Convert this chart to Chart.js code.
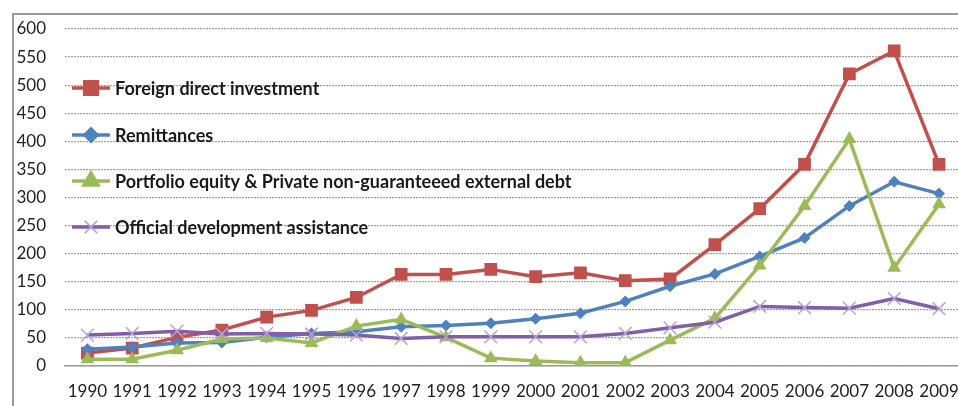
<!DOCTYPE html>
<html>
<head>
<meta charset="utf-8">
<script src="https://cdn.jsdelivr.net/npm/chart.js@4.4.1/dist/chart.umd.min.js"></script>
<style>
  html, body { margin: 0; padding: 0; background: #fff; overflow: hidden; width: 958px; height: 406px; }
  #frame {
    position: absolute; left: 12px; top: 13px;
    width: 960px; height: 420px;
    border-left: 2px solid #9a9a9a; border-top: 2px solid #9a9a9a;
  }
  #chart { display: block; }
</style>
</head>
<body>
<div id="frame"><canvas id="chart" width="960" height="420"></canvas></div>
<script>
// anos
const anos = ['1990','1991','1992','1993','1994','1995','1996','1997','1998','1999',
              '2000','2001','2002','2003','2004','2005','2006','2007','2008','2009'];

// series
const fdi        = [23, 32, 51, 64, 87, 99, 122, 163, 163, 172, 159, 166, 152, 155, 216, 280, 359, 520, 561, 359];
const remessas   = [30, 34, 41, 42, 51, 58, 61, 70, 72, 76, 84, 94, 115, 142, 164, 195, 228, 285, 328, 307];
const portfolio  = [12, 12, 28, 48, 50, 41, 71, 83, 51, 14, 9, 6, 6, 46, 85, 179, 285, 404, 175, 288];
const oda        = [55, 58, 62, 57, 58, 57, 55, 49, 52, 52, 52, 52, 58, 68, 78, 106, 104, 103, 120, 102];

const nomes = ['Foreign direct investment', 'Remittances',
               'Portfolio equity & Private non-guaranteeed external debt',
               'Official development assistance'];

const cores = ['#C0504D', '#4F81BD', '#9BBB59', '#7F5FA8'];
const coresPonto = ['#C0504D', '#4F81BD', '#9BBB59', '#B3A2D3'];
const estilos = ['rect', 'rectRot', 'triangle', 'crossRot'];
const raios = [9, 6, 8, 9];

function serie(i, dados, ordem) {
  return {
    label: nomes[i],
    data: dados,
    borderColor: cores[i],
    backgroundColor: coresPonto[i],
    pointBackgroundColor: coresPonto[i],
    pointBorderColor: coresPonto[i],
    pointBorderWidth: i == 3 ? 1.5 : 0,
    pointStyle: estilos[i],
    pointRadius: raios[i],
    borderWidth: 3.5,
    tension: 0,
    order: ordem
  };
}

// legenda desenhada dentro da area do grafico
const legendaDentro = {
  id: 'legendaDentro',
  afterDatasetsDraw(chart) {
    const ctx = chart.ctx;
    const ys = [73, 120, 166, 212];
    ctx.save();
    for (let i = 0; i < nomes.length; i++) {
      const y = ys[i];
      ctx.strokeStyle = cores[i];
      ctx.lineWidth = 3.5;
      ctx.beginPath();
      ctx.moveTo(58, y);
      ctx.lineTo(96, y);
      ctx.stroke();
      ctx.fillStyle = coresPonto[i];
      ctx.strokeStyle = coresPonto[i];
      ctx.lineWidth = i == 3 ? 1.5 : 0;
      Chart.helpers.drawPoint(ctx, { pointStyle: estilos[i], radius: raios[i], borderWidth: ctx.lineWidth }, 77, y);
      ctx.fillStyle = '#1a1a1a';
      ctx.font = 'bold 18px Lato';
      ctx.textBaseline = 'middle';
      ctx.fillText(nomes[i], 101, y + 1);
    }
    ctx.restore();
  }
};

new Chart(document.getElementById('chart'), {
  type: 'line',
  data: {
    labels: anos,
    datasets: [
      serie(0, fdi, 4),
      serie(1, remessas, 3),
      serie(2, portfolio, 2),
      serie(3, oda, 1)
    ]
  },
  options: {
    responsive: false,
    animation: false,
    layout: { padding: { top: 0, right: 10, bottom: 0, left: 0 } },
    plugins: { legend: { display: false }, tooltip: { enabled: false } },
    scales: {
      x: {
        offset: true,
        grid: { display: false, drawTicks: false },
        border: { display: true, color: '#9a9a9a', width: 1.5 },
        ticks: { color: '#222', font: { family: 'Lato', size: 17 }, padding: 15, maxRotation: 0, autoSkip: false },
        afterFit(s) { s.height = 69; }
      },
      y: {
        min: 0, max: 600,
        grid: { color: '#a0a0a0', lineWidth: 1.2, drawTicks: false },
        border: { display: false, dash: [2, 1] },
        ticks: { stepSize: 50, color: '#222', font: { family: 'Lato', size: 17 }, padding: 19 },
        afterFit(s) { s.width = 51; s.paddingTop = 14; s.paddingBottom = 0; }
      }
    }
  },
  plugins: [legendaDentro]
});
</script>
</body>
</html>
